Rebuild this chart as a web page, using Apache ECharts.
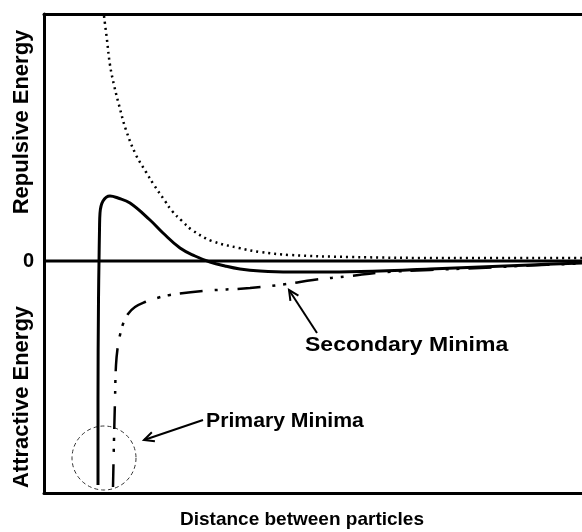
<!DOCTYPE html>
<html>
<head>
<meta charset="utf-8">
<script src="https://cdn.jsdelivr.net/npm/echarts@6/dist/echarts.min.js"></script>
<style>
  html, body { margin: 0; padding: 0; background: #fff; }
  #chart { width: 582px; height: 532px; }
</style>
</head>
<body>
<div id="chart"></div>
<script>
// distance (arbitrary units) vs energy (arbitrary units)
var total_curve = [
  [54,-224],[54,-139],[54.5,-39],[55,-1],[55.5,31],[56,48],[59,60],[66,65],
  [74,63],[86,58],[106,41],[119,28],[136,13],[151,5],[166,-1],[181,-5],
  [196,-8],[216,-10],[246,-11],[286,-11],[336,-10],[386,-8],[436,-6],[486,-4],[538,-2]
];
var repulsive_curve = [
  [60,245],[63,221],[66,196],[70,176],[75,156],[82,131],[92,106],[102,89],
  [110,76],[121,60],[128,50],[138,40],[148,31],[168,20],[195,13],[216,9],
  [246,6],[306,4],[406,3],[538,3]
];
var attractive_curve = [
  [69,-226],[70,-179],[71,-139],[72,-104],[74,-84],[76,-74],[79,-63],[84,-53],
  [91,-46],[101,-41],[113,-37],[126,-34],[159,-30],[206,-27],[243,-23],[269,-19],
  [306,-15],[336,-11.5],[386,-9],[436,-7],[486,-4.5],[538,-2.5]
];
var zero_line = [[0,0],[538,0]];
var y_ticks = [0];

var FONT = "'Liberation Sans', Arial, sans-serif";
var myChart = echarts.init(document.getElementById('chart'));

// open chevron arrow: tail -> tip (pixels)
function arrow(x1, y1, x2, y2) {
  var a = Math.atan2(y2 - y1, x2 - x1), L = 11, s = 0.45;
  return [
    {type:'line', shape:{x1:x1,y1:y1,x2:x2,y2:y2}, style:{stroke:'#000', lineWidth:2}},
    {type:'polyline', shape:{points:[
      [x2 - L*Math.cos(a - s), y2 - L*Math.sin(a - s)],
      [x2, y2],
      [x2 - L*Math.cos(a + s), y2 - L*Math.sin(a + s)]
    ]}, style:{stroke:'#000', lineWidth:2, fill:null}}
  ];
}

function label(text, x, y, size, rot, sx) {
  return {type:'text', x:x, y:y, rotation:rot || 0, scaleX:sx || 1,
    style:{text:text, fill:'#000', font:'bold ' + size + 'px ' + FONT,
      textAlign: rot ? 'center' : 'left', textVerticalAlign:'middle'}};
}

var axisBox = {show:true, onZero:false, lineStyle:{color:'#000', width:3}};

option = {
  animation: false,
  grid: {left:44, top:14, right:0, bottom:39},
  xAxis: [
    {type:'value', min:0, max:538, axisLine:axisBox, axisTick:{show:false},
     axisLabel:{show:false}, splitLine:{show:false}},
    {type:'value', position:'top', min:0, max:538, axisLine:axisBox, axisTick:{show:false},
     axisLabel:{show:false}, splitLine:{show:false}}
  ],
  yAxis: {
    type:'value', min:-232, max:247, axisLine:axisBox, axisTick:{show:false},
    splitLine:{show:false},
    axisLabel:{customValues:y_ticks, margin:10, color:'#000',
      fontSize:20, fontWeight:'bold', fontFamily:FONT}
  },
  series: [
    {type:'line', data:zero_line, symbol:'none', lineStyle:{color:'#000', width:3}},
    {type:'line', data:repulsive_curve, symbol:'none', smooth:0.4,
     lineStyle:{color:'#000', width:2.5, type:[2,4]}},
    {type:'line', data:attractive_curve, symbol:'none', smooth:0.4,
     lineStyle:{color:'#000', width:2.5, type:[23,12,3,8,3,9]}},
    {type:'line', data:total_curve, symbol:'none', smooth:0.4,
     lineStyle:{color:'#000', width:3}}
  ],
  graphic: [
    label('Repulsive Energy', 22, 122, 22, Math.PI/2),
    label('Attractive Energy', 22, 397, 22, Math.PI/2),
    {type:'text', x:302, y:520, style:{text:'Distance between particles', fill:'#000',
      font:'bold 19px ' + FONT, textAlign:'center', textVerticalAlign:'middle'}},
    label('Secondary Minima', 305, 345, 20, 0, 1.15),
    label('Primary Minima', 206, 421, 20, 0, 1.06),
    {type:'circle', shape:{cx:104, cy:458, r:32},
     style:{fill:null, stroke:'#333', lineWidth:1, lineDash:[4,3]}}
  ].concat(arrow(317, 333, 289, 290), arrow(203, 420, 144, 440))
};

myChart.setOption(option);
</script>
</body>
</html>
